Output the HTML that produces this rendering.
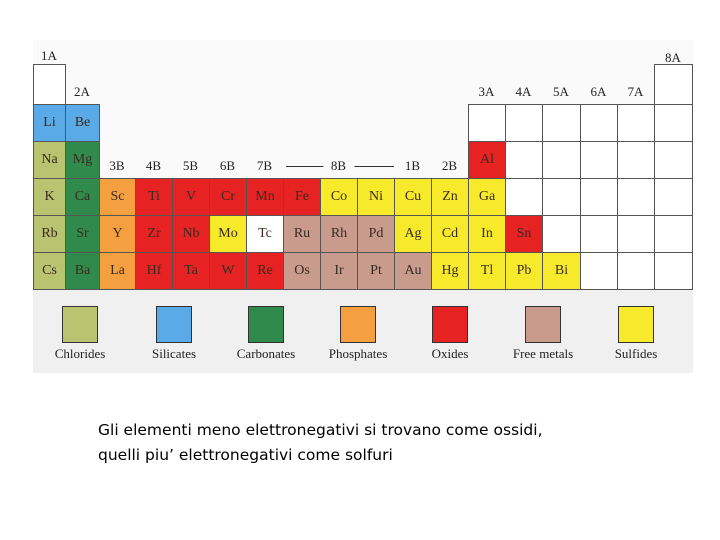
<!DOCTYPE html>
<html><head><meta charset="utf-8"><style>
body{margin:0;width:720px;height:540px;background:#fff;position:relative;overflow:hidden;font-family:"Liberation Serif",serif}
.c{position:absolute;box-sizing:border-box;border:1px solid #555;display:flex;align-items:center;justify-content:center;font-size:14px;color:#3a2a20}
.h{position:absolute;font-size:13px;color:#222;transform:translateX(-50%)}
.lg{position:absolute;font-size:13px;color:#222;transform:translateX(-50%)}
.sw{position:absolute;border:1px solid #333;box-sizing:border-box}
.cap{position:absolute;left:98px;font-family:"DejaVu Sans",sans-serif;font-size:15.5px;color:#000}
</style></head><body>
<div style="position:absolute;left:33px;top:40px;width:660px;height:333px;background:#fafafa"></div>
<div style="position:absolute;left:33px;top:290px;width:660px;height:83px;background:#f0f0f0"></div>
<div id="t"></div>
<div class="cap" style="top:421px">Gli elementi meno elettronegativi si trovano come ossidi,</div>
<div class="cap" style="top:446px">quelli piu’ elettronegativi come solfuri</div>
<script>
const colX=[33,65,99,135,172,209,246,283,320,357,394,431,468,505,542,580,617,654,692];
const rowY=[64,104,141,178,215,252,289];
const colors={C:'#b9c470',S:'#5aaae8',K:'#2f8a4c',P:'#f5a040',O:'#e62222',F:'#c89b8c',Y:'#f6ea2a',W:'#ffffff'};
const cells=[
[0,0,'','W'],[0,17,'','W'],
[1,0,'Li','S'],[1,1,'Be','S'],
[2,0,'Na','C'],[2,1,'Mg','K'],[2,12,'Al','O'],
[3,0,'K','C'],[3,1,'Ca','K'],[3,2,'Sc','P'],[3,3,'Ti','O'],[3,4,'V','O'],[3,5,'Cr','O'],[3,6,'Mn','O'],[3,7,'Fe','O'],[3,8,'Co','Y'],[3,9,'Ni','Y'],[3,10,'Cu','Y'],[3,11,'Zn','Y'],[3,12,'Ga','Y'],
[4,0,'Rb','C'],[4,1,'Sr','K'],[4,2,'Y','P'],[4,3,'Zr','O'],[4,4,'Nb','O'],[4,5,'Mo','Y'],[4,6,'Tc','W'],[4,7,'Ru','F'],[4,8,'Rh','F'],[4,9,'Pd','F'],[4,10,'Ag','Y'],[4,11,'Cd','Y'],[4,12,'In','Y'],[4,13,'Sn','O'],
[5,0,'Cs','C'],[5,1,'Ba','K'],[5,2,'La','P'],[5,3,'Hf','O'],[5,4,'Ta','O'],[5,5,'W','O'],[5,6,'Re','O'],[5,7,'Os','F'],[5,8,'Ir','F'],[5,9,'Pt','F'],[5,10,'Au','F'],[5,11,'Hg','Y'],[5,12,'Tl','Y'],[5,13,'Pb','Y'],[5,14,'Bi','Y']
];
for(let c=12;c<18;c++){if(c>12)cells.push([1,c,'','W'],[2,c,'','W']); else cells.push([1,c,'','W']);}
for(let c=13;c<18;c++)cells.push([3,c,'','W']);
for(let c=14;c<18;c++)cells.push([4,c,'','W']);
for(let c=15;c<18;c++)cells.push([5,c,'','W']);
const t=document.getElementById('t');
const ln=document.createElement('div');


ln.style.cssText='position:absolute;left:286px;top:166px;width:108px;height:1px;border-top:1px solid #333';
t.appendChild(ln);
cells.forEach(([r,c,s,k])=>{
 const d=document.createElement('div');d.className='c';
 
 
 d.style.left=colX[c]+'px';d.style.top=rowY[r]+'px';
 d.style.width=(colX[c+1]-colX[c]+1)+'px';d.style.height=(rowY[r+1]-rowY[r]+1)+'px';
 d.style.background=colors[k];d.textContent=s;t.appendChild(d);
});
const heads=[['1A',0,48],['2A',1,84],['3B',2,158],['4B',3,158],['5B',4,158],['6B',5,158],['7B',6,158],['8B',8,158],['1B',10,158],['2B',11,158],['3A',12,84],['4A',13,84],['5A',14,84],['6A',15,84],['7A',16,84],['8A',17,50]];
heads.forEach(([s,c,y])=>{
 const d=document.createElement('div');d.className='h';
 
 
 d.style.left=((colX[c]+colX[c+1])/2)+'px';d.style.top=y+'px';d.textContent=s;
 if(s==='8B'){d.style.background='#fafafa';d.style.padding='0 8px';}
 t.appendChild(d);
});
const legNames=['Chlorides','Silicates','Carbonates','Phosphates','Oxides','Free metals','Sulfides'];
const legKeys=['C','S','K','P','O','F','Y'];
const legX=[80,174,266,358,450,543,636];
legNames.forEach((n,i)=>{
 const s=document.createElement('div');s.className='sw';
 
 
 s.style.cssText+=`left:${legX[i]-18}px;top:306px;width:36px;height:37px;background:${colors[legKeys[i]]}`;
 t.appendChild(s);
 const l=document.createElement('div');l.className='lg';
 
 
 l.style.left=legX[i]+'px';l.style.top='346px';l.textContent=n;t.appendChild(l);
});
</script>
</body></html>
